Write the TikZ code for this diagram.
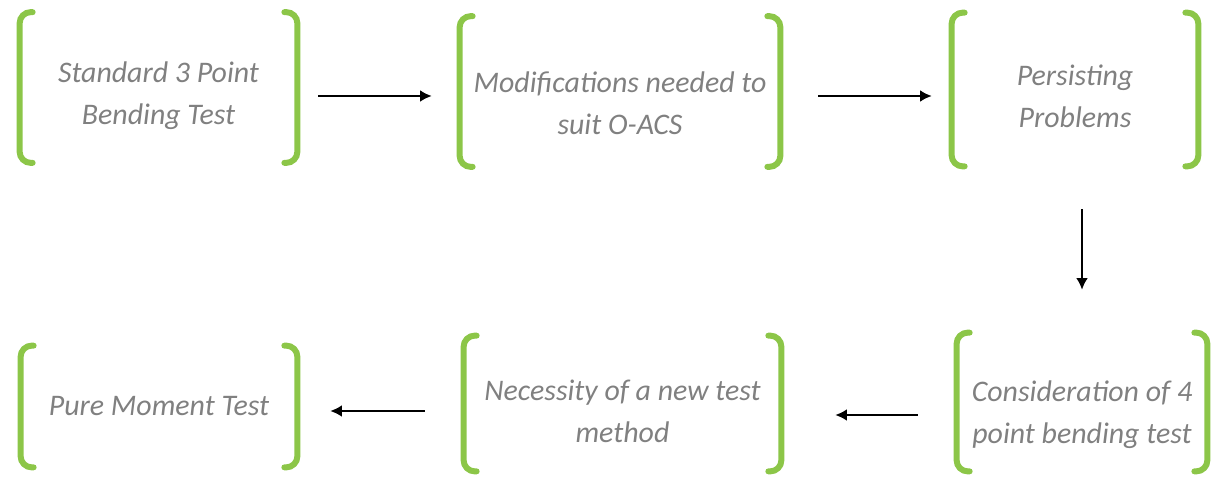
\documentclass[tikz,border=0pt]{standalone}
\usepackage{fontspec}
\setmainfont{Carlito}
\usetikzlibrary{shapes,arrows.meta}

\definecolor{brkgreen}{RGB}{140,198,72}
\definecolor{txtgray}{RGB}{128,128,128}

\begin{document}
\begin{tikzpicture}[
    stage/.style={inner sep=0pt, align=center, text=txtgray,
      font=\fontsize{17}{24}\selectfont\itshape},
    brk/.style={draw=brkgreen, line width=3.4pt, rounded corners=0.22cm, line cap=round},
    flow/.style={-{Latex[length=6.5pt,width=6.5pt]}, line width=0.8pt}
  ]
        \path[use as bounding box] (0,0) rectangle (24.42,9.52);

        \node [stage,minimum width=5.54cm,minimum height=3.0cm] (A) at (3.17, 7.60) {Standard 3 Point\\Bending Test};
        \node [stage,minimum width=6.4cm,minimum height=3.0cm] (B) at (12.4, 7.46) {Modifications needed to\\suit O-ACS};
        \node [stage,minimum width=4.92cm,minimum height=3.06cm] (C) at (21.5, 7.60) {Persisting\\Problems};
        \node [stage,minimum width=5.0cm,minimum height=2.76cm] (D) at (21.64, 1.22) {Consideration of 4\\point bending test};
        \node [stage,minimum width=6.34cm,minimum height=2.7cm] (E) at (12.45, 1.30) {Necessity of a new test\\method};
        \node [stage,minimum width=5.52cm,minimum height=2.42cm] (F) at (3.18, 1.39) {Pure Moment Test};

        % brackets sit a little above the text
        \foreach \n/\dy in {A/0.17,B/0.23,C/0.13,D/0.26,E/0.15,F/0} {
          \draw[brk] ([shift={(0.26,\dy)}]\n.north west) -- ([yshift=\dy cm]\n.north west) -- ([yshift=\dy cm]\n.south west) -- ([shift={(0.26,\dy)}]\n.south west);
          \draw[brk] ([shift={(-0.26,\dy)}]\n.north east) -- ([yshift=\dy cm]\n.north east) -- ([yshift=\dy cm]\n.south east) -- ([shift={(-0.26,\dy)}]\n.south east);
        }

        \draw[flow, shorten <=0.42cm, shorten >=0.56cm] (A.east) -- (A.east -| B.west);
        \draw[flow, shorten <=0.76cm, shorten >=0.4cm] (C.west -| B.east) -- (C.west);
        \draw[flow, shorten <=0.73cm, shorten >=1.12cm] (C.south -| D.north) -- (D.north);
        \draw[flow, shorten <=0.78cm, shorten >=1.08cm] (D.west) -- (D.west -| E.east);
        \draw[flow, shorten <=0.78cm, shorten >=0.66cm] (E.west) -- (E.west -| F.east);
      \end{tikzpicture}
\end{document}
